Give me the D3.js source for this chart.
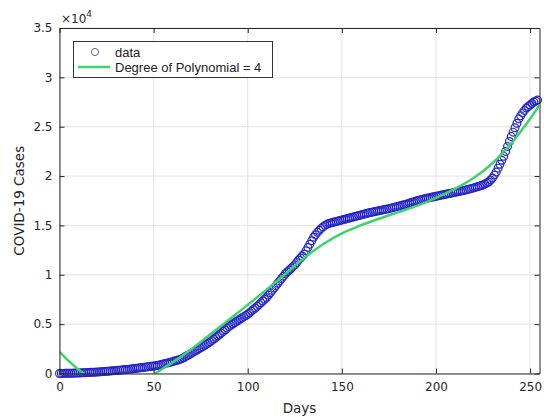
<!DOCTYPE html>
<html>
<head>
<meta charset="utf-8">
<script src="https://cdn.jsdelivr.net/npm/d3@7"></script>
<style>
  html, body { margin: 0; padding: 0; background: #fff; }
  svg { display: block; }
</style>
</head>
<body>
<svg id="chart" width="544" height="417"></svg>
<script>
// Cumulative COVID-19 cases, one value per day starting at day 0
const cases = [
  5, 8, 12, 15, 20, 25, 30, 35, 42, 48, 55, 62, 70, 78, 86, 95, 104, 114, 124, 135,
  150, 163, 177, 191, 205, 220, 236, 252, 268, 285,
  302, 320, 338, 357, 376, 396, 416, 437, 458, 480,
  502, 525, 548, 572, 596, 621, 646, 672, 698, 724,
  750, 785, 820, 858, 900, 950, 995, 1045, 1095, 1150,
  1200, 1255, 1310, 1370, 1430, 1500, 1600, 1710, 1820, 1930,
  2050, 2160, 2270, 2380, 2490, 2600, 2720, 2840, 2960, 3080,
  3200, 3350, 3500, 3650, 3800, 3950, 4110, 4270, 4430, 4590,
  4750, 4880, 5010, 5140, 5270, 5400, 5520, 5640, 5760, 5880,
  6000, 6160, 6320, 6480, 6640, 6800, 6980, 7160, 7340, 7520,
  7700, 7940, 8180, 8420, 8660, 8900, 9140, 9380, 9620, 9860,
  10100, 10280, 10460, 10640, 10820, 11000, 11250, 11500, 11700, 11900,
  12100, 12430, 12770, 13100, 13450, 13800, 14050, 14300, 14500, 14700,
  14850, 15000, 15100, 15200, 15250, 15300, 15350, 15400, 15450, 15500,
  15550, 15600, 15650, 15700, 15750, 15800, 15850, 15900, 15950, 16000,
  16050, 16100, 16150, 16200, 16250, 16300, 16340, 16380, 16420, 16460,
  16500, 16540, 16580, 16620, 16660, 16700, 16750, 16800, 16850, 16900,
  16950, 17000, 17050, 17100, 17150, 17200, 17260, 17320, 17380, 17440,
  17500, 17550, 17600, 17650, 17700, 17750, 17790, 17830, 17870, 17910,
  17950, 17990, 18030, 18070, 18110, 18150, 18190, 18230, 18270, 18310,
  18350, 18390, 18430, 18470, 18510, 18550, 18600, 18650, 18700, 18750,
  18800, 18860, 18920, 18980, 19040, 19100, 19200, 19300, 19400, 19600,
  19800, 20100, 20400, 20800, 21200, 21600, 22000, 22500, 23000, 23500,
  24000, 24450, 24900, 25350, 25800, 26100, 26400, 26650, 26900, 27050,
  27200, 27350, 27500, 27600, 27700
];

// Degree-4 polynomial fit
const fitDays = [0, 5, 10, 15, 20, 25, 30, 35, 40, 45, 50, 55, 60, 70, 80, 90, 100, 110, 120, 130, 140, 150, 160, 170, 180, 190, 200, 210, 220, 230, 240, 250, 255];
const fitValues = [2200, 1250, 400, -300, -850, -1200, -1400, -1400, -1150, -700, -100, 500, 1100, 2450, 3950, 5450, 6950, 8500, 10100, 11700, 13100, 14200, 15000, 15700, 16350, 17000, 17800, 18700, 19800, 21300, 23300, 25800, 27200];

const xTicks = [0, 50, 100, 150, 200, 250];
const yTicks = [0, 5000, 10000, 15000, 20000, 25000, 30000, 35000];
const yTickLabels = ["0", "0.5", "1", "1.5", "2", "2.5", "3", "3.5"];

const svg = d3.select("#chart");
const L = 59.5, R = 539.5, T = 28, B = 373.5;
const x = d3.scaleLinear().domain([0, 255]).range([L, R]);
const y = d3.scaleLinear().domain([0, 35000]).range([B, T]);

const axisColor = "#262626";
const tickFont = "'DejaVu Sans', sans-serif";

// grid
const grid = svg.append("g");
grid.selectAll("line.gx").data(xTicks).join("line")
  .attr("x1", d => x(d)).attr("x2", d => x(d)).attr("y1", T).attr("y2", B)
  .attr("stroke", "#e3e3e3").attr("stroke-width", 1);
grid.selectAll("line.gy").data(yTicks).join("line")
  .attr("y1", d => y(d)).attr("y2", d => y(d)).attr("x1", L).attr("x2", R)
  .attr("stroke", "#e3e3e3").attr("stroke-width", 1);

// clip for the fit line
svg.append("clipPath").attr("id", "plotclip")
  .append("rect").attr("x", L).attr("y", T).attr("width", R - L).attr("height", B - T);

// data markers
svg.append("g").selectAll("circle").data(cases).join("circle")
  .attr("cx", (d, i) => x(i)).attr("cy", d => y(d)).attr("r", 3.9)
  .attr("fill", "none").attr("stroke", "#2424c8").attr("stroke-width", 1.2);

// fit line
const fitData = fitDays.map((d, i) => [d, fitValues[i]]);
svg.append("path").datum(fitData)
  .attr("clip-path", "url(#plotclip)")
  .attr("d", d3.line().x(d => x(d[0])).y(d => y(d[1])).curve(d3.curveCatmullRom))
  .attr("fill", "none").attr("stroke", "#3ad468").attr("stroke-width", 2.5);

// axes
const xAxis = d3.axisBottom(x).tickValues(xTicks).tickSizeInner(-5).tickSizeOuter(0).tickPadding(9);
const gx = svg.append("g").attr("transform", `translate(0,${B})`).call(xAxis);
const xAxisTop = d3.axisTop(x).tickValues(xTicks).tickSizeInner(-5).tickSizeOuter(0).tickFormat("");
const gxt = svg.append("g").attr("transform", `translate(0,${T})`).call(xAxisTop);
const yAxis = d3.axisLeft(y).tickValues(yTicks).tickSizeInner(-5).tickSizeOuter(0).tickPadding(7)
  .tickFormat((d, i) => yTickLabels[i]);
const gy = svg.append("g").attr("transform", `translate(${L},0)`).call(yAxis);
const yAxisRight = d3.axisRight(y).tickValues(yTicks).tickSizeInner(-5).tickSizeOuter(0).tickFormat("");
const gyr = svg.append("g").attr("transform", `translate(${R},0)`).call(yAxisRight);

[gx, gxt, gy, gyr].forEach(g => {
  g.select(".domain").attr("stroke", axisColor).attr("stroke-width", 1);
  g.selectAll(".tick line").attr("stroke", axisColor).attr("stroke-width", 1);
  g.selectAll(".tick text").attr("fill", axisColor)
    .style("font-family", tickFont).style("font-size", "12px");
});
gx.selectAll(".tick text").attr("dy", "0.71em");

// axis labels
svg.append("text").attr("x", (L + R) / 2).attr("y", 413)
  .attr("text-anchor", "middle").attr("fill", axisColor)
  .style("font-family", tickFont).style("font-size", "13.5px").text("Days");
svg.append("text").attr("transform", `translate(24,${(T + B) / 2}) rotate(-90)`)
  .attr("text-anchor", "middle").attr("fill", axisColor)
  .style("font-family", tickFont).style("font-size", "13.5px").text("COVID-19 Cases");

// exponent
const ex = svg.append("text").attr("x", 61).attr("y", 23).attr("fill", axisColor)
  .style("font-family", tickFont).style("font-size", "12px");
ex.append("tspan").text("\u00d710");
ex.append("tspan").attr("dy", -6).style("font-size", "9px").text("4");

// legend
const lg = svg.append("g");
lg.append("rect").attr("x", 73.5).attr("y", 41.5).attr("width", 199).attr("height", 36)
  .attr("fill", "#fff").attr("stroke", "#333").attr("stroke-width", 1);
lg.append("circle").attr("cx", 95).attr("cy", 52).attr("r", 3.6)
  .attr("fill", "none").attr("stroke", "#5a5ab8").attr("stroke-width", 1);
lg.append("line").attr("x1", 78).attr("x2", 110).attr("y1", 67).attr("y2", 67)
  .attr("stroke", "#3ad468").attr("stroke-width", 2.5);
lg.append("text").attr("x", 115).attr("y", 57).attr("fill", "#222")
  .style("font-family", "'Liberation Sans', Arial, sans-serif").style("font-size", "13px").text("data");
lg.append("text").attr("x", 115).attr("y", 72).attr("fill", "#222")
  .style("font-family", "'Liberation Sans', Arial, sans-serif").style("font-size", "13px").text("Degree of Polynomial = 4");
</script>
</body>
</html>
